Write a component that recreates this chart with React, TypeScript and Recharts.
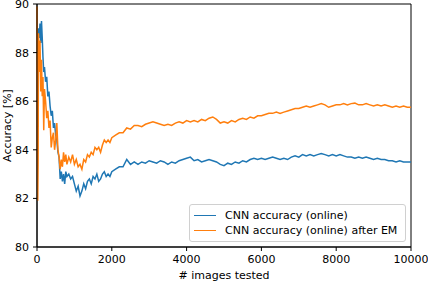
import React from 'react';
import { LineChart, Line, XAxis, YAxis, Legend, ReferenceArea } from 'recharts';

const imagesTested = [
  0, 10, 20, 30, 40, 60, 80, 100, 120, 140, 160, 180, 200, 230, 260, 290, 320, 350, 380, 410,
  440, 470, 500, 530, 560, 590, 620, 650, 680, 710, 740, 770, 800, 850, 900, 950, 1000, 1050, 1100, 1150,
  1200, 1250, 1300, 1350, 1400, 1450, 1500, 1550, 1600, 1650, 1700, 1750, 1800, 1850, 1900, 1950, 2000,
  2100, 2200, 2300, 2400, 2500, 2600, 2700, 2800, 2900, 3000, 3100, 3200, 3300, 3400, 3500, 3600, 3700,
  3800, 3900, 4000, 4100, 4200, 4300, 4400, 4500, 4600, 4700, 4800, 4900, 5000, 5100, 5200, 5300, 5400,
  5500, 5600, 5700, 5800, 5900, 6000, 6100, 6200, 6300, 6400, 6500, 6600, 6700, 6800, 6900, 7000, 7100,
  7200, 7300, 7400, 7500, 7600, 7700, 7800, 7900, 8000, 8100, 8200, 8300, 8400, 8500, 8600, 8700, 8800,
  8900, 9000, 9100, 9200, 9300, 9400, 9500, 9600, 9700, 9800, 9900, 10000,
];

const cnnOnline = [
  88.5, 87.5, 88.8, 88.2, 89.0, 88.6, 89.2, 88.4, 89.3, 88.6, 87.8, 87.2, 87.4, 86.8, 87.0, 86.2, 86.4, 85.8, 85.4, 85.6,
  84.9, 85.1, 84.6, 84.4, 83.9, 83.7, 82.8, 83.1, 82.7, 83.0, 82.6, 83.1, 82.9, 83.0, 82.8, 82.9, 82.6, 82.3, 82.5, 82.1,
  82.3, 82.6, 82.4, 82.7, 82.8, 82.6, 82.9, 82.8, 83.0, 82.7, 82.8, 83.0, 83.1, 82.9, 83.0, 82.9, 83.1,
  83.2, 83.3, 83.3, 83.6, 83.4, 83.5, 83.4, 83.5, 83.45, 83.55, 83.5, 83.45, 83.55, 83.5, 83.4, 83.5, 83.45,
  83.55, 83.6, 83.65, 83.7, 83.55, 83.6, 83.5, 83.55, 83.6, 83.55, 83.5, 83.4, 83.35, 83.45, 83.4, 83.5, 83.45,
  83.55, 83.5, 83.6, 83.65, 83.6, 83.65, 83.6, 83.65, 83.7, 83.65, 83.6, 83.65, 83.6, 83.7, 83.75, 83.7, 83.8,
  83.75, 83.8, 83.75, 83.8, 83.85, 83.8, 83.75, 83.8, 83.75, 83.8, 83.75, 83.7, 83.7, 83.65, 83.7, 83.65, 83.7,
  83.65, 83.6, 83.65, 83.6, 83.6, 83.55, 83.55, 83.5, 83.55, 83.5, 83.5, 83.5,
];

const cnnOnlineAfterEM = [
  89.9, 84.0, 81.9, 83.5, 88.8, 87.2, 88.5, 86.4, 87.7, 86.2, 87.0, 84.8, 86.5, 86.0, 85.3, 85.6, 84.9, 85.2, 84.1, 84.5,
  84.7, 84.0, 84.4, 85.1, 84.0, 83.7, 83.2, 83.6, 83.3, 83.9, 83.5, 83.8, 83.4, 83.7, 83.5, 83.8, 83.4, 83.6, 83.3, 83.4,
  83.2, 83.6, 83.5, 83.8, 83.7, 83.9, 83.8, 84.1, 84.0, 84.1, 83.9, 84.2, 84.4, 84.3, 84.4, 84.3, 84.5,
  84.6, 84.7, 84.7, 84.9, 84.85, 85.0, 85.0, 84.95, 85.05, 85.1, 85.15, 85.1, 85.05, 85.0, 85.05, 85.0, 85.1,
  85.15, 85.1, 85.2, 85.15, 85.2, 85.15, 85.25, 85.2, 85.3, 85.35, 85.25, 85.1, 85.15, 85.1, 85.2, 85.15, 85.25,
  85.3, 85.25, 85.35, 85.3, 85.4, 85.4, 85.45, 85.5, 85.5, 85.55, 85.5, 85.55, 85.6, 85.65, 85.7, 85.7, 85.75,
  85.8, 85.75, 85.8, 85.85, 85.9, 85.85, 85.75, 85.8, 85.85, 85.85, 85.9, 85.85, 85.9, 85.92, 85.85, 85.85, 85.9,
  85.85, 85.8, 85.85, 85.8, 85.85, 85.8, 85.75, 85.8, 85.75, 85.8, 85.75, 85.75,
];

const xTicks = [0, 2000, 4000, 6000, 8000, 10000];
const yTicks = [80, 82, 84, 86, 88, 90];

const seriesNames = ['CNN accuracy (online)', 'CNN accuracy (online) after EM'];
const seriesColors = ['#1f77b4', '#ff7f0e'];

const data = imagesTested.map((x, i) => ({
  x,
  online: cnnOnline[i],
  afterEM: cnnOnlineAfterEM[i],
}));

const FONT = 'DejaVu Sans, sans-serif';
const FS = 11;

const LegendBox = () => (
  <div
    style={{
      boxSizing: 'border-box',
      width: 217,
      height: 38,
      border: '1px solid #d0d0d0',
      borderRadius: 3,
      background: 'rgba(255,255,255,0.8)',
      fontFamily: FONT,
      fontSize: FS,
      color: '#000',
      padding: '3px 0 0 4px',
    }}
  >
    {seriesNames.map((name, i) => (
      <div key={name} style={{ display: 'flex', alignItems: 'center', height: 15 }}>
        <div style={{ width: 22, height: 0, borderTop: `1.5px solid ${seriesColors[i]}`, marginRight: 9 }} />
        <span style={{ whiteSpace: 'nowrap' }}>{name}</span>
      </div>
    ))}
  </div>
);

export default function App() {
  return (
    <div style={{ position: 'fixed', left: 0, top: 0, background: '#fff' }}>
      <LineChart
        width={428}
        height={281}
        data={data}
        margin={{ top: 4, right: 17, bottom: 0, left: 0 }}
      >
        <XAxis
          dataKey="x"
          type="number"
          domain={[0, 10000]}
          ticks={xTicks}
          tickSize={4}
          tickMargin={4}
          stroke="#000"
          tick={{ fill: '#000', fontSize: FS, fontFamily: FONT }}
          height={34}
          interval={0}
          label={{ value: '# images tested', position: 'insideBottom', offset: 2, style: { fill: '#000', fontSize: FS, fontFamily: FONT } }}
        />
        <YAxis
          type="number"
          domain={[80, 90]}
          allowDataOverflow
          ticks={yTicks}
          tickSize={4}
          tickMargin={4}
          stroke="#000"
          tick={{ fill: '#000', fontSize: FS, fontFamily: FONT }}
          width={37}
          interval={0}
          label={{ value: 'Accuracy [%]', angle: -90, position: 'insideLeft', offset: 7, style: { textAnchor: 'middle', fill: '#000', fontSize: FS, fontFamily: FONT } }}
        />
        <ReferenceArea x1={0} x2={10000} y1={80} y2={90} fill="none" stroke="#000" strokeWidth={1} ifOverflow="visible" />
        <Line
          type="linear"
          dataKey="online"
          name={seriesNames[0]}
          stroke={seriesColors[0]}
          strokeWidth={1.5}
          dot={false}
          isAnimationActive={false}
        />
        <Line
          type="linear"
          dataKey="afterEM"
          name={seriesNames[1]}
          stroke={seriesColors[1]}
          strokeWidth={1.5}
          dot={false}
          isAnimationActive={false}
        />
        <Legend
          layout="vertical"
          align="center"
          verticalAlign="middle"
          content={() => <LegendBox />}
          wrapperStyle={{ position: 'absolute', left: 189, top: 204, width: 217, height: 38 }}
        />
      </LineChart>
    </div>
  );
}
